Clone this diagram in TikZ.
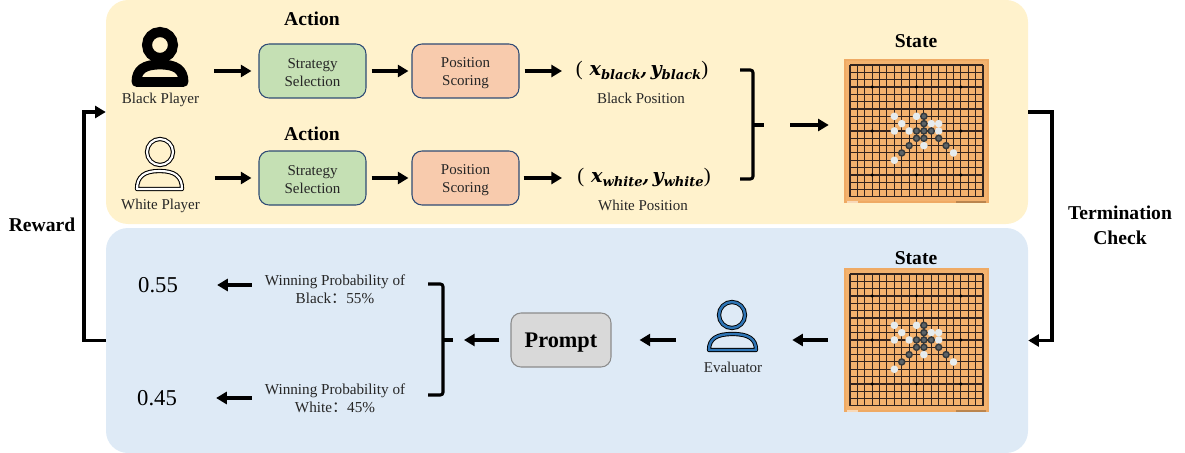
\documentclass[tikz,border=0pt]{standalone}
\usepackage{fontspec}
\setmainfont{Liberation Serif}
\newfontfamily\cjk{Noto Sans CJK SC}
\newfontfamily\mathlike{DejaVu Serif}
\usetikzlibrary{arrows.meta,calc}
\definecolor{yellowbg}{HTML}{FFF2CC}
\definecolor{bluebg}{HTML}{DEEAF6}
\definecolor{greenbox}{HTML}{C5E0B4}
\definecolor{orangebox}{HTML}{F8CBAD}
\definecolor{boxline}{HTML}{2F4B75}
\definecolor{graybox}{HTML}{D9D9D9}
\definecolor{grayline}{HTML}{8C8C8C}
\definecolor{wood}{HTML}{EFAA64}
\definecolor{woodin}{HTML}{F3B26E}
\definecolor{gridc}{HTML}{33241E}
\definecolor{stonew}{HTML}{E6ECEE}
\definecolor{stoneb}{HTML}{34393C}
\definecolor{stonec}{HTML}{5C6265}
\definecolor{evalblue}{HTML}{2E75B6}
\definecolor{txt}{HTML}{262626}
\newcommand\nudge{\rule{0pt}{10.5pt}}
\tikzset{
  panel/.style={rounded corners=16.5pt,inner sep=0pt,minimum width=922*0.75pt},
  procbox/.style={draw=boxline,line width=0.8pt,rounded corners=7.5pt,inner sep=0pt,minimum width=107*0.75pt,minimum height=54*0.75pt,align=center,font=\fontsize{11.25}{13.5}\selectfont,text=txt},
  label/.style={font=\fontsize{11.25}{13.5}\selectfont,text=txt,inner sep=0pt,align=center},
  winlabel/.style={font=\fontsize{11.4}{13.6}\selectfont,text=txt,inner sep=0pt,align=center},
  heading/.style={font=\fontsize{14.7}{18.7}\selectfont\bfseries,text=black,inner sep=0pt,align=center},
  value/.style={font=\fontsize{17}{18}\selectfont,text=black,inner sep=0pt},
  iconbox/.style={inner sep=0pt,minimum width=#1*0.75pt,minimum height=10pt},
  boardbox/.style={fill=wood,inner sep=0pt,minimum width=145*0.75pt,minimum height=144*0.75pt},
  arr/.style 2 args={line width=2.3pt,-{Triangle[length=8pt,width=9pt]},shorten <=#1*0.75pt,shorten >=#2*0.75pt},
  bracketline/.style={line width=2.3pt,rounded corners=2pt},
  loopline/.style={line width=2.5pt,-{Triangle[length=8pt,width=9pt]}},
}
\newcommand\dome[5]{\draw[#5,line join=round] (#1-#3,#2) .. controls (#1-#3,#2-0.72*#4) and (#1-0.66*#3,#2-#4) .. (#1,#2-#4) .. controls (#1+0.66*#3,#2-#4) and (#1+#3,#2-0.72*#4) .. (#1+#3,#2) -- cycle;}
\newcommand\gomoku[2]{%
  \begin{scope}[shift={(#1,#2)}]
    \fill[woodin] (-4,-4) rectangle (137,136);
    \foreach \k in {0,...,18}{
      \draw[gridc,line width=0.8pt] (\k*7.39,0) -- (\k*7.39,132);
      \draw[gridc,line width=0.8pt] (0,\k*7.33) -- (133,\k*7.33);
    }
    \foreach \k in {2,9,15}{\draw[gridc,line width=1.1pt] (0,\k*7.33) -- (133,\k*7.33);}
    \foreach \a in {3,9,15}\foreach \b in {3,9,15}{\fill[black] (\a*7.39,\b*7.33) circle (1.3pt);}
    \foreach \a/\b in {6/7,7/8,6/9,8/9,9/7,11/8,12/8,12/9,10/11,14/12,6/13}{
      \fill[stonew] (\a*7.39,\b*7.33) circle (2.85pt);}
    \foreach \a/\b in {10/7,10/8,9/9,10/9,11/9,9/10,10/10,12/10,13/11,8/11,7/12}{
      \fill[stoneb] (\a*7.39,\b*7.33) circle (2.85pt);
      \fill[stonec] (\a*7.39,\b*7.33) circle (1.6pt);}
    \fill[white!55!wood] (-3,135.5) rectangle (8,137.5);
    \fill[black!22!wood] (106,135.5) rectangle (136,137.5);
  \end{scope}}
\newcommand\coordpair[1]{{\fontsize{15.5}{16}\selectfont(\,\,}{\mathlike\bfseries\itshape\fontsize{14.4}{16}\selectfont x\raisebox{-2.8pt}{\fontsize{9.8}{10}\selectfont #1},\,y\raisebox{-2.8pt}{\fontsize{9.8}{10}\selectfont #1}}{\fontsize{15.5}{16}\selectfont)}}
\begin{document}
\begin{tikzpicture}[x=0.75pt,y=-0.75pt]
\useasboundingbox (0,0) rectangle (1185,453);
% panels
\node[panel,fill=yellowbg,minimum height=224*0.75pt] (yellowpanel) at (567,112) {};
\node[panel,fill=bluebg,minimum height=225*0.75pt] (bluepanel) at (567,340.5) {};
% headings
\node[heading] (action1) at (312,19) {Action};
\node[heading] (action2) at (312,133.5) {Action};
\node[heading] (state1) at (916,41) {State};
\node[heading] (state2) at (916,258) {State};
\node[heading] (reward) at (42,225) {Reward};
\node[heading] (termination) at (1120,225.5) {Termination\\Check};
% boxes
\node[procbox,fill=greenbox] (ss1) at (312.5,71) {\nudge Strategy\\Selection};
\node[procbox,fill=orangebox] (ps1) at (465.5,71) {\nudge Position\\Scoring};
\node[procbox,fill=greenbox] (ss2) at (312.5,178) {\nudge Strategy\\Selection};
\node[procbox,fill=orangebox] (ps2) at (465.5,178) {\nudge Position\\Scoring};
\node[draw=grayline,fill=graybox,line width=0.8pt,rounded corners=7.5pt,inner sep=0pt,minimum width=100*0.75pt,minimum height=54*0.75pt,font=\fontsize{16.7}{20}\selectfont\bfseries,text height=14pt,text depth=2.2pt] (prompt) at (561,340) {Prompt};
% icons
\node[iconbox=57] (blackicon) at (160,71) {};
\node[iconbox=49] (whiteicon) at (160,178) {};
\node[iconbox=51] (evalicon) at (732.5,340) {};
\draw[black,line width=7.5pt] (160,45) circle (13*0.75pt);
\dome{160}{82}{23.5}{17.5}{black,line width=7.4pt}
\draw[black,line width=3.2pt] (160,152) circle (13*0.75pt);
\draw[white,line width=1.6pt] (160,152) circle (13*0.75pt);
\dome{159.5}{189}{22.5}{18}{black,line width=3.2pt}
\dome{159.5}{189}{22.5}{18}{white,line width=1.6pt}
\draw[black,line width=3.2pt] (732,315) circle (13*0.75pt);
\draw[evalblue,line width=1.8pt] (732,315) circle (13*0.75pt);
\dome{732.5}{350}{23.5}{16}{black,line width=3.2pt}
\dome{732.5}{350}{23.5}{16}{evalblue,line width=1.8pt}
\node[label] (blacklabel) at (160.5,99.5) {Black Player};
\node[label] (whitelabel) at (160.5,205.5) {White Player};
\node[label] (evallabel) at (733,367) {Evaluator};
% position text
\node[inner sep=0pt,text=black] (pos1) at (642,71) {\coordpair{black}};
\node[inner sep=0pt,text=black] (pos2) at (644,178) {\coordpair{white}};
\node[label] (pos1label) at (641,98) {Black Position};
\node[label] (pos2label) at (643,205) {White Position};
\coordinate (pos1in) at (562,71);
\coordinate (pos2in) at (562,178);
% boards
\node[boardbox] (board1) at (916.5,131) {};
\node[boardbox] (board2) at (916.5,340) {};
\gomoku{850}{65}
\gomoku{850}{274}
% probability text
\node[winlabel] (win1) at (335,289) {Winning Probability of\\Black{\cjk ：}55\%};
\node[winlabel] (win2) at (335,398.5) {Winning Probability of\\White{\cjk ：}45\%};
\node[value] (val1) at (158,285) {0.55};
\node[value] (val2) at (157,398) {0.45};
% brackets
\coordinate (brk1) at (764,125);
\coordinate (brk2) at (453,340);
\draw[bracketline] (740,70) -- (753,70) -- (753,179) -- (740,179);
\draw[line width=2.3pt] (753,125) -- (brk1);
\draw[bracketline] (428,284) -- (443,284) -- (443,395) -- (428,395);
\draw[line width=2.3pt] (443,340) -- (brk2);
% arrows, top
\draw[arr={25.5}{7}] (blackicon.east) -- (ss1.west);
\draw[arr={5}{3}] (ss1.east) -- (ps1.west);
\draw[arr={5}{0}] (ps1.east) -- (pos1in);
\draw[arr={30}{7}] (whiteicon.east) -- (ss2.west);
\draw[arr={5}{3}] (ss2.east) -- (ps2.west);
\draw[arr={4}{0}] (ps2.east) -- (pos2in);
\draw[arr={26}{15}] (brk1) -- (brk1 -| board1.west);
% arrows, bottom
\draw[arr={16}{34}] (board2.west) -- (evalicon.east);
\draw[arr={31}{28}] (evalicon.west) -- (prompt.east);
\draw[arr={11}{11}] (prompt.west) -- (brk2);
\draw[arr={13}{39}] (win1.west |- val1.east) -- (val1.east);
\draw[arr={13}{39}] (win2.west |- val2.east) -- (val2.east);
% loops
\coordinate (rewardturn) at (84,340.5);
\coordinate (checkturn) at (1052,112);
\draw[loopline] (bluepanel.west) -- (rewardturn) |- (yellowpanel.west);
\draw[loopline] (yellowpanel.east) -- (checkturn) |- (bluepanel.east);
\end{tikzpicture}
\end{document}
